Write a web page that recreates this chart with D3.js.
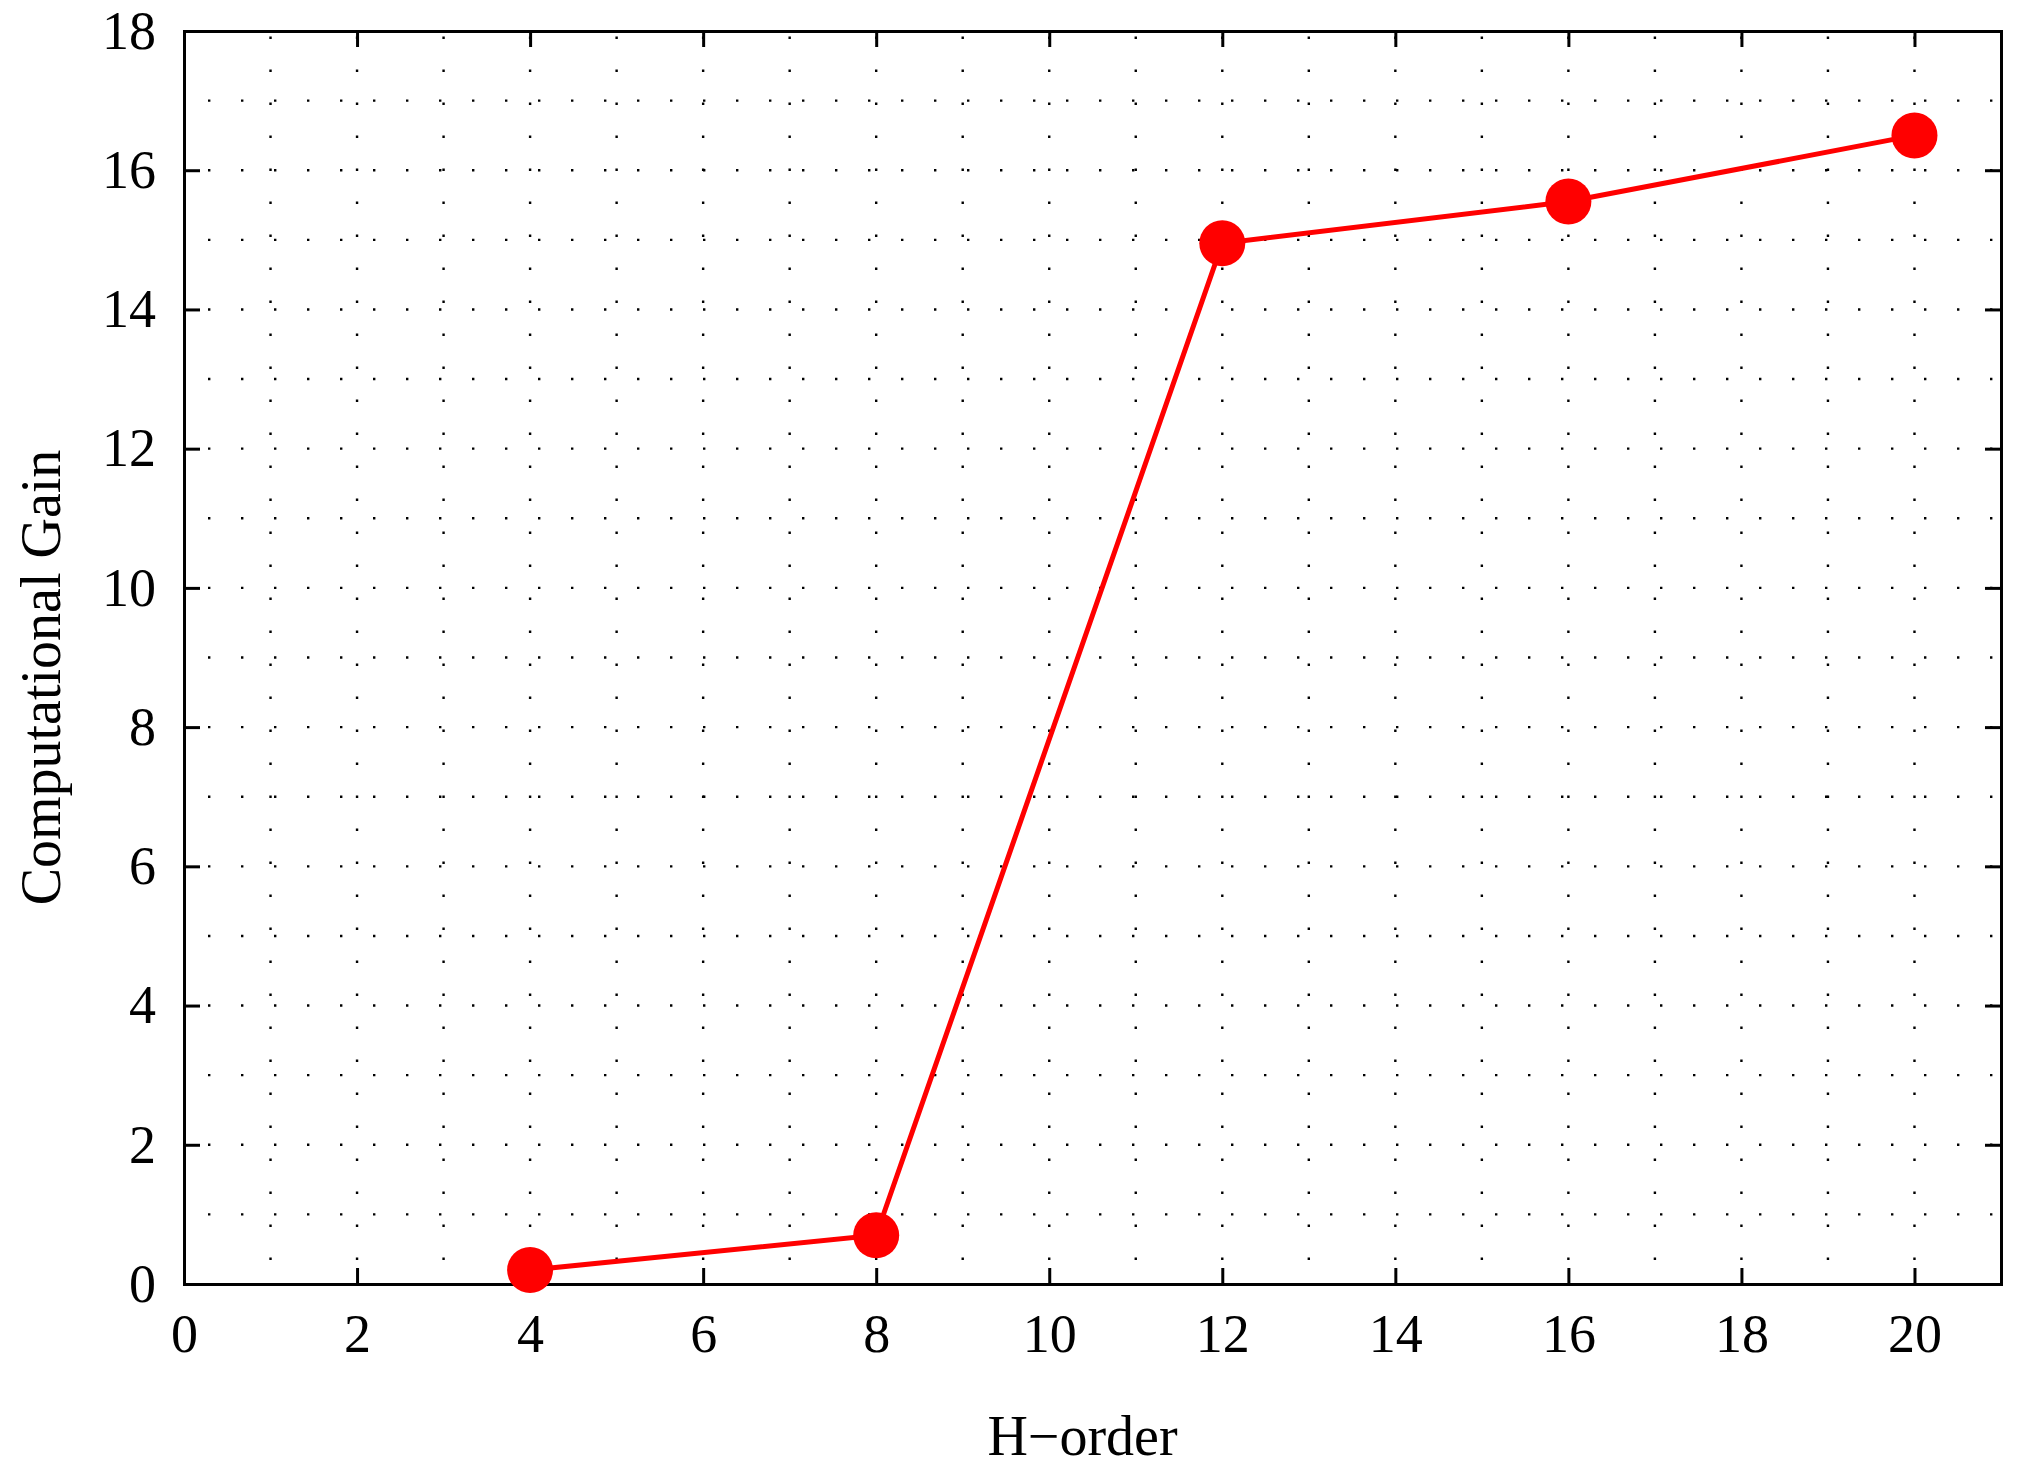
<!DOCTYPE html>
<html><head><meta charset="utf-8">
<script src="https://cdn.jsdelivr.net/npm/d3@7"></script>
<style>body{margin:0;background:#fff}</style>
</head><body><svg></svg>
<script>
const hOrder = [4, 8, 12, 16, 20];
const gain = [0.2, 0.7, 14.95, 15.55, 16.5];
const xTicks = [0, 2, 4, 6, 8, 10, 12, 14, 16, 18, 20];
const yTicks = [0, 2, 4, 6, 8, 10, 12, 14, 16, 18];

const width = 2018, height = 1476;
const margin = {top: 31, right: 17, bottom: 192, left: 184};
const svg = d3.select("svg").attr("width", width).attr("height", height);
const font = "'Liberation Serif', 'DejaVu Serif', serif";

const x = d3.scaleLinear().domain([0, 21]).range([margin.left, width - margin.right]);
const y = d3.scaleLinear().domain([0, 18]).range([height - margin.bottom, margin.top]);

// dotted grid every unit
const grid = svg.append("g").attr("stroke", "#000").attr("stroke-width", 2.4)
  .attr("stroke-dasharray", "2.4,30.6").attr("stroke-dashoffset", -24);
d3.range(1, 21).forEach(v => {
  grid.append("line").attr("x1", x(v)).attr("x2", x(v)).attr("y1", y(0)).attr("y2", y(18));
});
d3.range(1, 18).forEach(v => {
  grid.append("line").attr("x1", x(0)).attr("x2", x(21)).attr("y1", y(v)).attr("y2", y(v));
});

const tick = 16;
const axisG = svg.append("g");
axisG.append("g").attr("transform", `translate(0,${y(0)})`)
  .call(d3.axisBottom(x).tickValues(xTicks).tickSize(-tick).tickPadding(tick + 14));
axisG.append("g").attr("transform", `translate(0,${y(18)})`)
  .call(d3.axisTop(x).tickValues(xTicks).tickSize(-tick).tickFormat(""));
axisG.append("g").attr("transform", `translate(${x(0)},0)`)
  .call(d3.axisLeft(y).tickValues(yTicks).tickSize(-tick).tickPadding(tick + 12));
axisG.append("g").attr("transform", `translate(${x(21)},0)`)
  .call(d3.axisRight(y).tickValues(yTicks).tickSize(-tick).tickFormat(""));
axisG.selectAll("path.domain").attr("stroke-width", 3);
axisG.selectAll(".tick line").attr("stroke-width", 3);
axisG.selectAll("text").attr("font-family", font).attr("font-size", 54).attr("fill", "#000");

const pts = hOrder.map((h, i) => [h, gain[i]]);
svg.append("path").datum(pts)
  .attr("fill", "none").attr("stroke", "#ff0000").attr("stroke-width", 5)
  .attr("d", d3.line().x(d => x(d[0])).y(d => y(d[1])));
svg.selectAll("circle.pt").data(pts).enter().append("circle")
  .attr("cx", d => x(d[0])).attr("cy", d => y(d[1])).attr("r", 23).attr("fill", "#ff0000");

svg.append("text").attr("x", (x(0) + x(21)) / 2 - 10).attr("y", 1455)
  .attr("text-anchor", "middle").attr("font-family", font).attr("font-size", 56)
  .text("H\u2212order");
svg.append("text").attr("transform", `translate(60,${(y(0) + y(18)) / 2 + 20}) rotate(-90)`)
  .attr("text-anchor", "middle").attr("font-family", font).attr("font-size", 56)
  .text("Computational Gain");
</script></body></html>
